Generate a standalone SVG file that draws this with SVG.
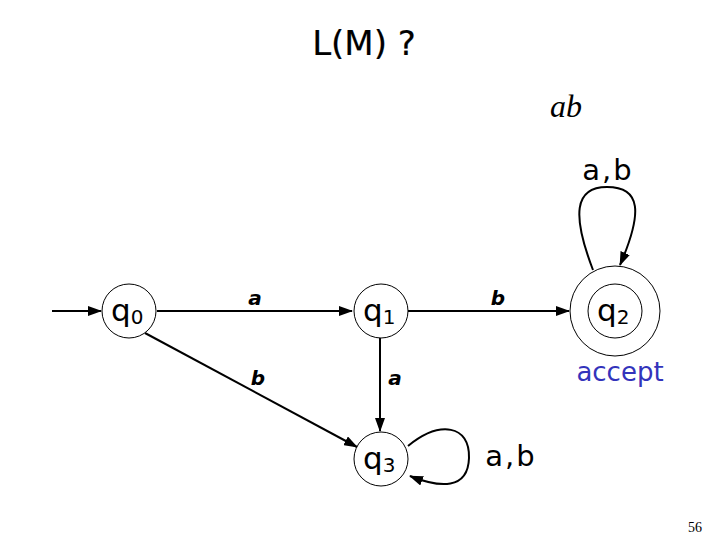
<svg xmlns="http://www.w3.org/2000/svg" width="720" height="540" viewBox="0 0 720 540">
<style>
.st{fill:#fff;stroke:#000;stroke-width:1}
.q{font-family:"DejaVu Sans",sans-serif;font-size:31px;fill:#000}
.sub{font-size:20px}
.lbl{font-family:"DejaVu Sans",sans-serif;font-style:italic;font-weight:bold;font-size:20px;fill:#000}
.lab2{font-family:"DejaVu Sans",sans-serif;font-size:29px;fill:#000;letter-spacing:2px}
.ed{fill:none;stroke:#000;stroke-width:2}
</style>
<defs>
<marker id="ah" markerWidth="14" markerHeight="10" refX="13" refY="5" orient="auto" markerUnits="userSpaceOnUse">
<path d="M0,0 L14,5 L0,10 Z" fill="#000"/>
</marker>
</defs>
<rect width="720" height="540" fill="#fff"/>
<text x="364" y="55" text-anchor="middle" style="font-family:'DejaVu Sans',sans-serif;font-size:34px;stroke:#000;stroke-width:0.2">L(M) ?</text>
<text x="566" y="117" text-anchor="middle" style="font-family:'Liberation Serif',serif;font-style:italic;font-size:32px">ab</text>
<g id="connectors">
<line class="ed" x1="52" y1="311" x2="101" y2="311" marker-end="url(#ah)"/>
<line class="ed" x1="157" y1="311" x2="352" y2="311" marker-end="url(#ah)"/>
<line class="ed" x1="408" y1="311" x2="569" y2="311" marker-end="url(#ah)"/>
<line class="ed" x1="380" y1="338" x2="380" y2="431" marker-end="url(#ah)"/>
<line class="ed" x1="145" y1="333" x2="357" y2="447" marker-end="url(#ah)"/>
<path class="ed" d="M593,270 C572,215 574,187 607,187 C641,187 643,212 620,265" marker-end="url(#ah)"/>
<path class="ed" d="M408,446 C440,420 470,425 469,458 C468,490 440,488 410,476" marker-end="url(#ah)"/>
<text class="lbl" x="255" y="305" text-anchor="middle">a</text>
<text class="lbl" x="498" y="305" text-anchor="middle">b</text>
<text class="lbl" x="258" y="385" text-anchor="middle">b</text>
<text class="lbl" x="395" y="385" text-anchor="middle">a</text>
<text class="lab2" x="608" y="180" text-anchor="middle">a,b</text>
<text class="lab2" x="511" y="466" text-anchor="middle">a,b</text>
</g>
<g id="q0">
<circle class="st" cx="129" cy="311" r="27"/>
<text class="q" x="111" y="321">q<tspan class="sub" dy="3">0</tspan></text>
</g>
<g id="q1">
<circle class="st" cx="381" cy="311" r="27"/>
<text class="q" x="363" y="321">q<tspan class="sub" dy="3">1</tspan></text>
</g>
<g id="q2">
<circle class="st" cx="615" cy="311" r="45"/>
<circle class="st" cx="615" cy="311" r="27"/>
<text class="q" x="597" y="321">q<tspan class="sub" dy="3">2</tspan></text>
<text x="620" y="381" text-anchor="middle" style="font-family:'DejaVu Sans',sans-serif;font-size:26px;fill:#3333bb">accept</text>
</g>
<g id="q3">
<circle class="st" cx="381" cy="459" r="27"/>
<text class="q" x="363" y="469">q<tspan class="sub" dy="3">3</tspan></text>
</g>
<text x="695" y="532" text-anchor="middle" style="font-family:'Liberation Serif',serif;font-size:14px">56</text>
</svg>
